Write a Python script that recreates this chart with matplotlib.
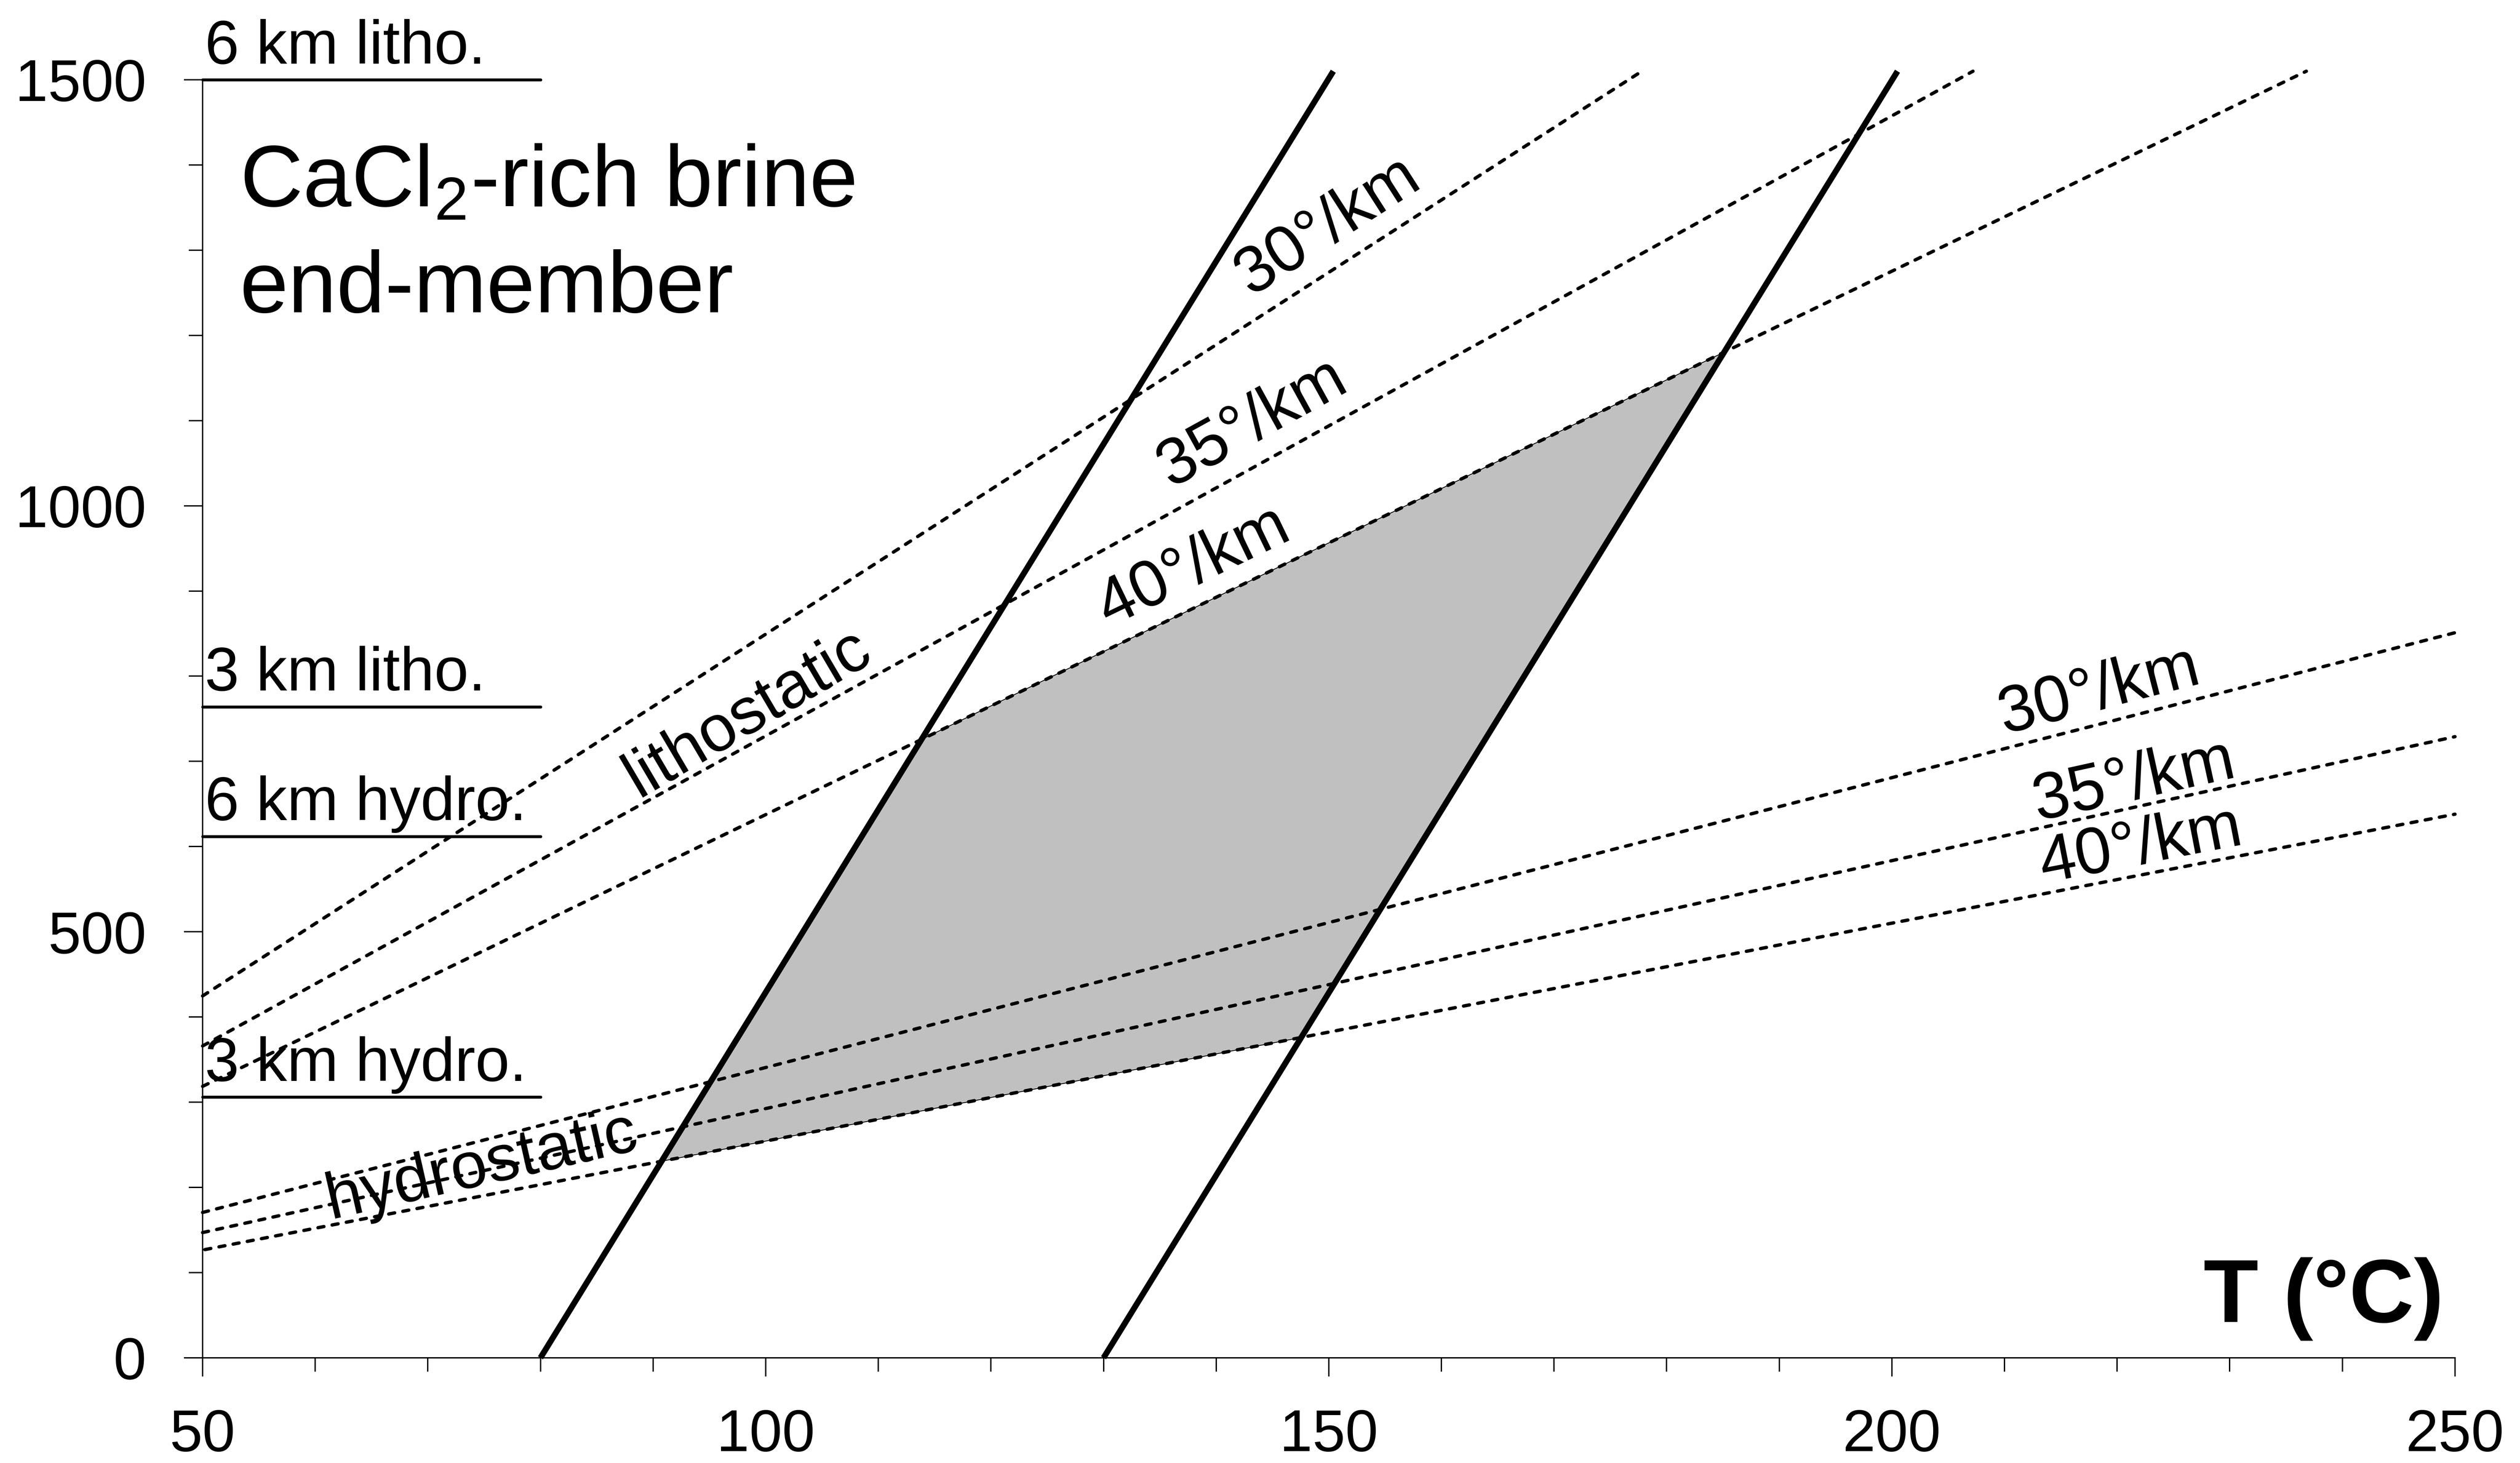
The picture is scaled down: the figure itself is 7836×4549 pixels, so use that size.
import numpy as np
import matplotlib.pyplot as plt
from matplotlib.patches import Polygon
from matplotlib.ticker import MultipleLocator

plt.rcParams['font.family'] = ['Liberation Sans', 'DejaVu Sans']
plt.rcParams['mathtext.fontset'] = 'custom'
plt.rcParams['mathtext.rm'] = 'Liberation Sans'
plt.rcParams['mathtext.it'] = 'Liberation Sans:italic'
plt.rcParams['mathtext.bf'] = 'Liberation Sans:bold'

# isochores (T, P end points)
iso_T = [[80, 150.4], [130, 200.5]]
iso_P = [[0, 1510], [0, 1510]]

# lithostatic geotherms
litho_labels = ['30°/km', '35°/km', '40°/km']
litho_T = [[50, 177.8], [50, 207.2], [50, 236.8]]
litho_P = [[424.7, 1510], [366, 1510], [318.6, 1510]]

# hydrostatic geotherms
hydro_labels = ['30°/km', '35°/km', '40°/km']
hydro_T = [[50, 250], [50, 250], [50.2, 250]]
hydro_P = [[170.6, 851], [147, 729], [127, 638]]

# reference depths
depth_labels = ['6 km litho.', '3 km litho.', '6 km hydro.', '3 km hydro.']
depth_P = [1500, 764, 612, 306]
depth_T = [50, 80]


def cross(t1, p1, t2, p2):
    # intersection of two straight lines given by two points each
    a1 = (p1[1] - p1[0]) / (t1[1] - t1[0])
    b1 = p1[0] - a1 * t1[0]
    a2 = (p2[1] - p2[0]) / (t2[1] - t2[0])
    b2 = p2[0] - a2 * t2[0]
    t = (b2 - b1) / (a1 - a2)
    return t, a1 * t + b1


fig = plt.figure(figsize=(7836 / 600, 4549 / 600), dpi=600)
ax = fig.add_axes([0.0804, 0.0719, 0.8938, 0.8736])
ax.set_xlim(50, 250)
ax.set_ylim(0, 1500)


def angle(t, p):
    d = ax.transData.transform([[t[0], p[0]], [t[1], p[1]]])
    return np.degrees(np.arctan2(d[1, 1] - d[0, 1], d[1, 0] - d[0, 0]))


# shaded field: between the two isochores, 40°/km hydro and 40°/km litho
verts = [cross(iso_T[0], iso_P[0], hydro_T[2], hydro_P[2]),
         cross(iso_T[0], iso_P[0], litho_T[2], litho_P[2]),
         cross(iso_T[1], iso_P[1], litho_T[2], litho_P[2]),
         cross(iso_T[1], iso_P[1], hydro_T[2], hydro_P[2])]
ax.add_patch(Polygon(verts, closed=True, facecolor='#c0c0c0', edgecolor='black',
                     linewidth=0.3, zorder=1))

dash = (0, (1.8, 2.5))
for t, p in zip(litho_T, litho_P):
    ax.plot(t, p, color='black', lw=1.25, linestyle=dash, dash_capstyle='round',
            clip_on=False, zorder=2)
for t, p in zip(hydro_T, hydro_P):
    ax.plot(t, p, color='black', lw=1.25, linestyle=dash, dash_capstyle='round',
            clip_on=False, zorder=2)
for t, p in zip(iso_T, iso_P):
    ax.plot(t, p, color='black', lw=2.2, solid_capstyle='butt', clip_on=False, zorder=3)

for lab, p in zip(depth_labels, depth_P):
    ax.plot(depth_T, [p, p], color='black', lw=1.1, solid_capstyle='round',
            clip_on=False, zorder=3)
    ax.text(depth_T[0] + 0.2, p + 19, lab, fontsize=23, ha='left', va='baseline')

# geotherm labels
litho_pos = [(149.9, 1328), (143.2, 1097), (138.0, 928)]
for lab, (x, y), t, p in zip(litho_labels, litho_pos, litho_T, litho_P):
    ax.text(x, y, lab, fontsize=24.5, ha='center', va='center',
            rotation=angle(t, p), rotation_mode='anchor')
hydro_pos = [(218.4, 782), (221.5, 676), (222.1, 600)]
for lab, (x, y), t, p in zip(hydro_labels, hydro_pos, hydro_T, hydro_P):
    ax.text(x, y, lab, fontsize=24.5, ha='center', va='center',
            rotation=angle(t, p), rotation_mode='anchor')

ax.text(98.4, 756, 'lithostatic', fontsize=24.5, ha='center', va='center',
        rotation=30.5, rotation_mode='anchor')
ax.text(74.8, 224, 'hydrostatic', fontsize=24.5, ha='center', va='center',
        rotation=12.8, rotation_mode='anchor')

ax.text(53.3, 1351.5, 'CaCl$_{2}$-rich brine', fontsize=32.5, ha='left', va='baseline')
ax.text(53.3, 1227, 'end-member', fontsize=32.5, ha='left', va='baseline')
ax.text(249, 42, 'T (°C)', fontsize=33.5, fontweight='bold', ha='right', va='baseline')

# axes styling
for s in ['top', 'right']:
    ax.spines[s].set_visible(False)
for s in ['left', 'bottom']:
    ax.spines[s].set_linewidth(0.5)
ax.xaxis.set_major_locator(MultipleLocator(50))
ax.xaxis.set_minor_locator(MultipleLocator(10))
ax.yaxis.set_major_locator(MultipleLocator(500))
ax.yaxis.set_minor_locator(MultipleLocator(100))
ax.tick_params(which='major', direction='out', length=7, width=0.5, labelsize=22)
ax.tick_params(which='minor', direction='out', length=5.2, width=0.5)
ax.tick_params(axis='x', which='major', pad=11.8)
ax.tick_params(axis='y', which='major', pad=14)

fig.savefig('out.png', dpi=600)
